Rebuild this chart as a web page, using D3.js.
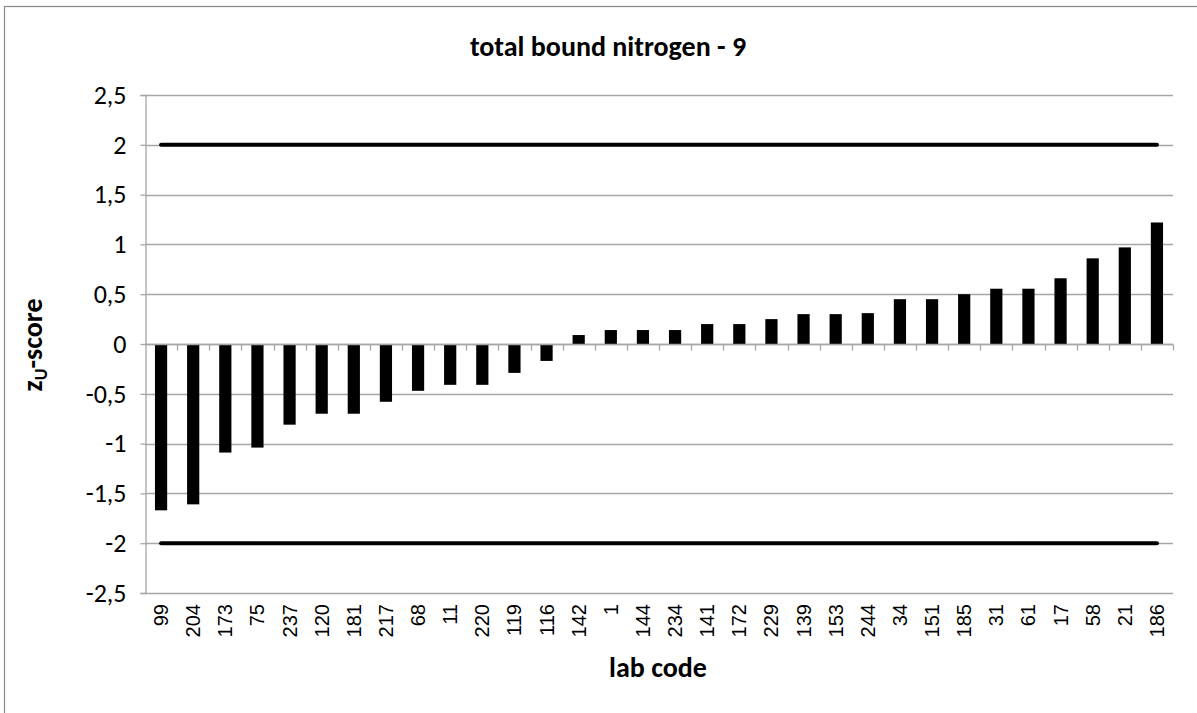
<!DOCTYPE html>
<html><head><meta charset="utf-8">
<script src="https://cdn.jsdelivr.net/npm/d3@7"></script>
<style>
html,body{margin:0;padding:0;background:#fff;}
svg{display:block;}
</style></head>
<body>
<svg id="chart" width="1197" height="713"></svg>
<script>
const labCodes = ["99","204","173","75","237","120","181","217","68","11","220","119","116","142","1","144","234","141","172","229","139","153","244","34","151","185","31","61","17","58","21","186"];
const zScores = [-1.67,-1.61,-1.09,-1.04,-0.81,-0.70,-0.70,-0.58,-0.47,-0.41,-0.41,-0.29,-0.17,0.09,0.14,0.14,0.14,0.20,0.20,0.25,0.30,0.30,0.31,0.45,0.45,0.50,0.555,0.555,0.66,0.86,0.97,1.22];
const limitValues = [2, -2];
const yTicks = [-2.5,-2,-1.5,-1,-0.5,0,0.5,1,1.5,2,2.5];
const titleText = "total bound nitrogen - 9";
const xTitle = "lab code";

const svg = d3.select("#chart");
const calibri = "Carlito, Calibri, Lato, 'Open Sans', sans-serif";
const arial = "'Liberation Sans', Arial, sans-serif";

// outer border (only top/left visible)
svg.append("rect").attr("x",4.5).attr("y",6.5).attr("width",1300).attr("height",800)
  .attr("fill","none").attr("stroke","#898989").attr("stroke-width",1.2);

const x = d3.scaleBand().domain(labCodes).range([145,1173]).paddingInner(0.62).paddingOuter(0.31);
const xb = d3.scaleBand().domain(labCodes).range([145,1173]);
const y = d3.scaleLinear().domain([-2.5,2.5]).range([593,95]);

// gridlines
svg.append("g").selectAll("line").data(yTicks).join("line")
  .attr("x1",145).attr("x2",1173)
  .attr("y1",d=>Math.round(y(d))+0.5).attr("y2",d=>Math.round(y(d))+0.5)
  .attr("stroke","#a6a6a6").attr("stroke-width",1.3);

// y axis
const yAxis = d3.axisLeft(y).tickValues(yTicks).tickSize(5).tickPadding(14)
  .tickFormat(d=>String(d).replace(".",","));
const gy = svg.append("g").attr("transform","translate(145.5,0)").call(yAxis);
gy.select(".domain").attr("stroke","#a6a6a6").attr("stroke-width",1.3);
gy.selectAll(".tick line").attr("stroke","#a6a6a6").attr("stroke-width",1.3);
gy.selectAll(".tick text").attr("font-family",calibri).attr("font-size",26).attr("fill","#000");

// bars
svg.append("g").selectAll("rect").data(zScores).join("rect")
  .attr("x",(d,i)=>x(labCodes[i]))
  .attr("width",x.bandwidth())
  .attr("y",d=>y(Math.max(0,d)))
  .attr("height",d=>Math.abs(y(d)-y(0)))
  .attr("fill","#000");

// x axis at zero, ticks at band boundaries
const zeroY = Math.round(y(0))+0.5;
const gx = svg.append("g");
gx.append("line").attr("x1",145).attr("x2",1173).attr("y1",zeroY).attr("y2",zeroY)
  .attr("stroke","#a6a6a6").attr("stroke-width",1.3);
gx.selectAll("line.t").data(labCodes).join("line").attr("class","t")
  .attr("x1",d=>Math.round(xb(d)+xb.bandwidth())+0.5).attr("x2",d=>Math.round(xb(d)+xb.bandwidth())+0.5)
  .attr("y1",zeroY).attr("y2",zeroY+6)
  .attr("stroke","#a6a6a6").attr("stroke-width",1.3);

// x tick labels
svg.append("g").selectAll("text").data(labCodes).join("text")
  .attr("transform",d=>`translate(${xb(d)+xb.bandwidth()/2+7},604) rotate(-90)`)
  .attr("text-anchor","end")
  .attr("font-family",arial).attr("font-size",20).attr("fill","#000")
  .text(d=>d);

// limit lines
const line = d3.line().x(d=>xb(d)+xb.bandwidth()/2);
limitValues.forEach(v=>{
  svg.append("path")
    .attr("d", line.y(()=>y(v))([labCodes[0], labCodes[labCodes.length-1]]))
    .attr("stroke","#000").attr("stroke-width",4).attr("stroke-linecap","round").attr("fill","none");
});

// title
svg.append("text").attr("x",608).attr("y",56).attr("text-anchor","middle")
  .attr("font-family",calibri).attr("font-weight","bold").attr("font-size",28).text(titleText);

// x title
svg.append("text").attr("x",658).attr("y",677).attr("text-anchor","middle")
  .attr("font-family",calibri).attr("font-weight","bold").attr("font-size",28).text(xTitle);

// y title
const yt = svg.append("text").attr("transform","translate(42,345) rotate(-90)").attr("text-anchor","middle")
  .attr("font-family",calibri).attr("font-weight","bold").attr("font-size",28);
yt.append("tspan").text("z");
yt.append("tspan").attr("font-size",18).attr("dy",5).text("U");
yt.append("tspan").attr("dy",-5).text("-score");
</script>
</body></html>
